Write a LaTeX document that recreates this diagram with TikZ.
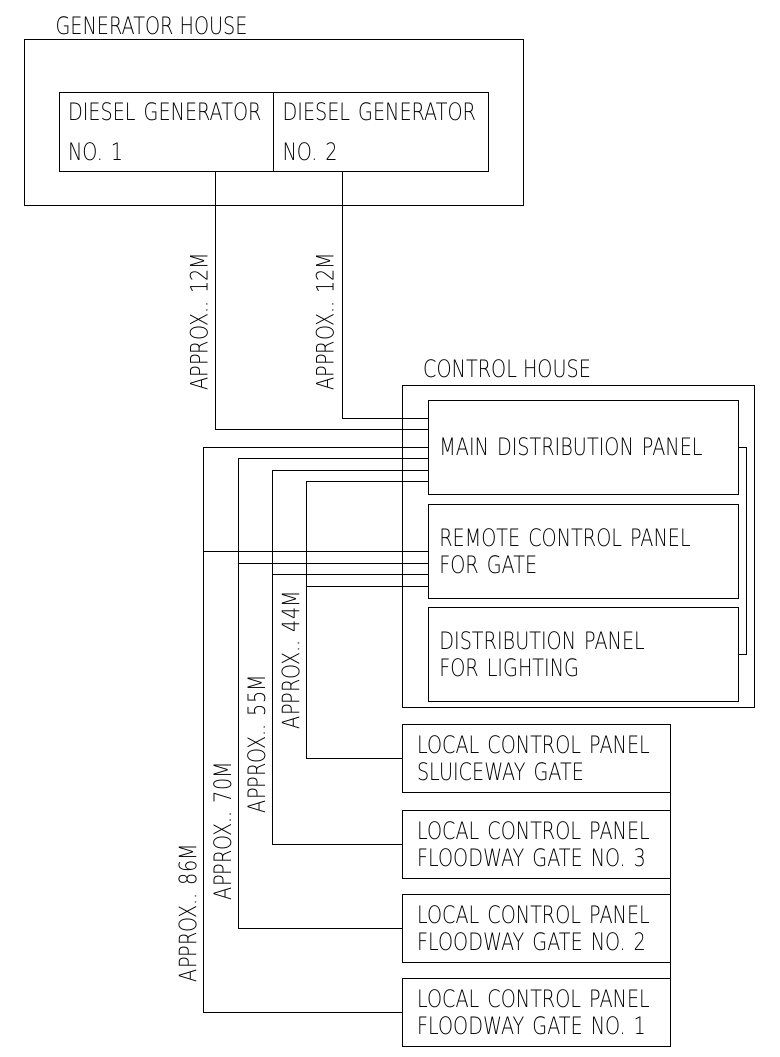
\documentclass[tikz,border=0pt]{standalone}
\usepackage{fontspec}
\newfontfamily\cadfont[FakeStretch=0.8]{DejaVu Sans ExtraLight}
\usetikzlibrary{positioning}
\begin{document}
\begin{tikzpicture}[
  x=1pt, y=-1pt,
  wall/.style={draw, line width=0.8pt, outer sep=0pt, inner sep=0pt},
  panel/.style={wall, align=left, font=\cadfont\fontsize{24}{27}\selectfont},
  genset/.style={panel, minimum width=214.5pt, text width=196.5pt, inner xsep=9pt, minimum height=78.4pt, font=\cadfont\fontsize{24}{39.5}\selectfont},
  board/.style={panel, minimum width=310.4pt, text width=288.4pt, inner xsep=11pt, minimum height=94pt},
  local/.style={panel, minimum width=268.3pt, text width=238.3pt, inner xsep=15pt, minimum height=68.4pt},
  title/.style={inner sep=0pt, anchor=base west, font=\cadfont\fontsize{24}{27}\selectfont},
  dist/.style={inner sep=0pt, rotate=90, font=\cadfont\fontsize{24}{27}\selectfont},
  cable/.style={line width=0.8pt}
]
\useasboundingbox (0,0) rectangle (779,1057);
% generator house
\node[wall, minimum width=498.6pt, minimum height=165.5pt] (genhouse) at (273.7,122.3) {};
\node[title] (genname) at ([shift={(31pt,5.5pt)}]genhouse.north west) {GENERATOR HOUSE};
\node[genset] (gen1) at (166.3,131.8) {DIESEL~GENERATOR\\NO. 1};
\node[genset, right=0pt of gen1] (gen2) {DIESEL~GENERATOR\\NO. 2};
% control house
\node[wall, minimum width=352pt, minimum height=322.2pt] (ctrlhouse) at (578,546.6) {};
\node[title] (ctrlname) at ([shift={(21pt,8.5pt)}]ctrlhouse.north west) {CONTROL HOUSE};
\node[board] (mdp) at (583.5,447) {MAIN DISTRIBUTION PANEL};
\node[board, below=10.7pt of mdp] (rcp) {REMOTE CONTROL PANEL\\FOR GATE};
\node[board, below=9pt of rcp] (dpl) {DISTRIBUTION PANEL\\FOR LIGHTING};
% local panels at the gates
\node[local] (slu) at (536.2,758.5) {LOCAL CONTROL PANEL\\SLUICEWAY GATE};
\node[local, below=17.6pt of slu] (fg3) {LOCAL CONTROL PANEL\\FLOODWAY GATE NO. 3};
\node[local, below=15.6pt of fg3] (fg2) {LOCAL CONTROL PANEL\\FLOODWAY GATE NO. 2};
\node[local, below=15.6pt of fg2] (fg1) {LOCAL CONTROL PANEL\\FLOODWAY GATE NO. 1};
% cables
\draw[cable] ([xshift=156pt]gen1.south west) |- ([yshift=-29.7pt]mdp.north west);
\draw[cable] ([xshift=68.5pt]gen2.south west) |- ([yshift=-18.3pt]mdp.north west);
\node[dist] (len12a) at (199,321.5) {APPROX.. 12M};
\node[dist] (len12b) at (325,321.5) {APPROX.. 12M};
\draw[cable] (mdp.east) -- ++(8,0) |- (dpl.east);
\draw[cable] (slu.south east) -- (fg3.north east) (fg3.south east) -- (fg2.north east) (fg2.south east) -- (fg1.north east);
\foreach \pan/\col/\off/\ly/\metres in {fg1/203.7/47pt/913/86, fg2/238.3/58.5pt/831/70, fg3/272.3/70pt/744/55, slu/306.7/81.5pt/660/44} {
  \coordinate (m) at ([yshift=-\off]mdp.north west);
  \coordinate (r) at ([yshift=-\off]rcp.north west);
  \coordinate (k) at (\col,0);
  \draw[cable] (\pan.west) -| (k |- m) -- (m);
  \draw[cable] (k |- r) -- (r);
  \node[dist] (len\pan) at (\col-16,\ly) {APPROX.. \metres M};
}
\end{tikzpicture}
\end{document}
